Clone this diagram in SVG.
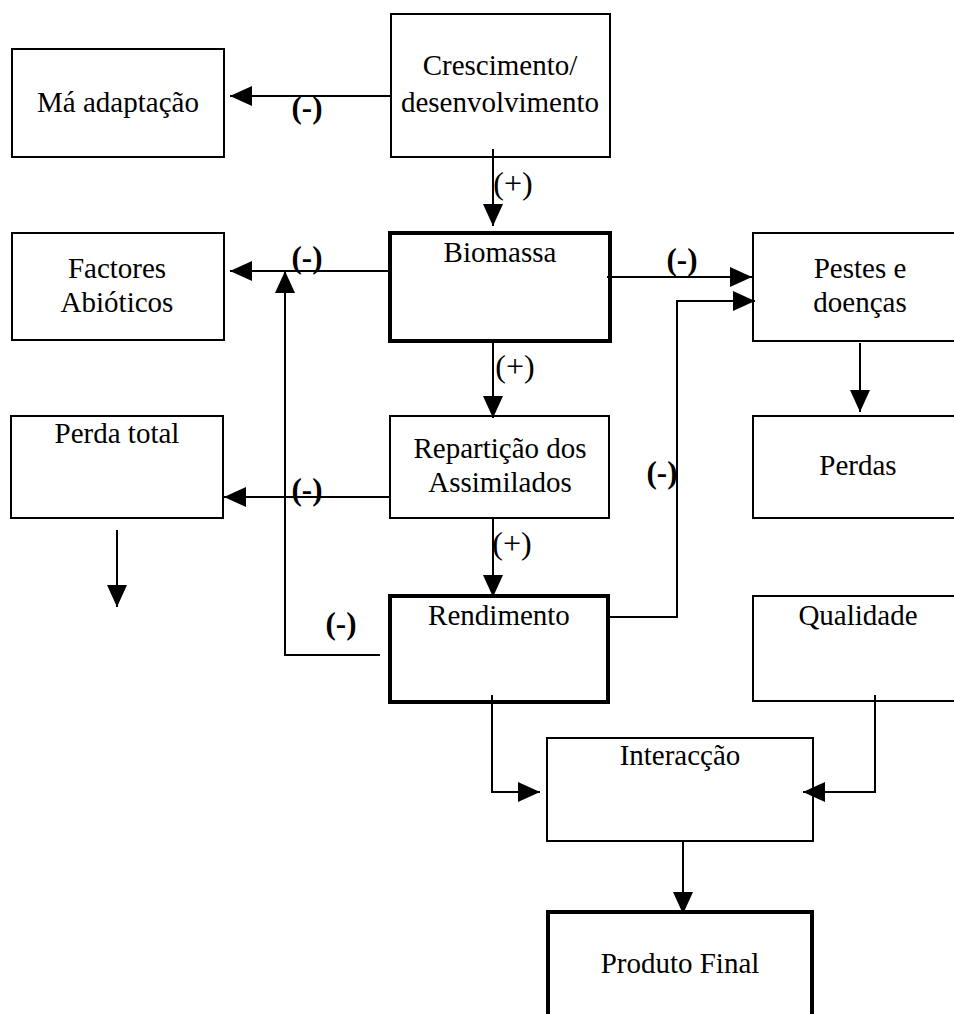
<svg xmlns="http://www.w3.org/2000/svg" width="954" height="1014" viewBox="0 0 954 1014">
<defs>
<marker id="ah" markerUnits="userSpaceOnUse" markerWidth="22" markerHeight="20" refX="22" refY="10" orient="auto">
<path d="M0,0 L22,10 L0,20 z" fill="#000"/>
</marker>
<style>
.box{fill:#fff;stroke:#000;stroke-width:2}
.thick{fill:#fff;stroke:#000;stroke-width:4}
.t{font-family:"Liberation Serif","Times New Roman",serif;font-size:29px;fill:#000;text-anchor:middle}
.m{font-family:"Liberation Serif","Times New Roman",serif;font-size:31px;font-weight:bold;fill:#000;text-anchor:middle}
.p{font-family:"Liberation Serif","Times New Roman",serif;font-size:32px;fill:#000;text-anchor:middle}
.c{fill:none;stroke:#000;stroke-width:2;marker-end:url(#ah)}
</style>
</defs>
<rect width="954" height="1014" fill="#fff"/>
<g id="ma-adaptacao"><rect class="box" x="12" y="49" width="212" height="108"/><text class="t" x="118" y="112">Má adaptação</text></g>
<g id="crescimento"><rect class="box" x="391" y="14" width="219" height="143"/><text class="t" x="500" y="75">Crescimento/</text><text class="t" x="500" y="112">desenvolvimento</text></g>
<g id="factores"><rect class="box" x="12" y="233" width="212" height="107"/><text class="t" x="117" y="278">Factores</text><text class="t" x="117" y="312">Abióticos</text></g>
<g id="biomassa"><rect class="thick" x="390" y="233" width="220" height="108"/><text class="t" x="500" y="262">Biomassa</text></g>
<g id="pestes"><rect class="box" x="753" y="233" width="213" height="108"/><text class="t" x="860" y="278">Pestes e</text><text class="t" x="860" y="312">doenças</text></g>
<g id="perda-total"><rect class="box" x="11" y="416" width="212" height="102"/><text class="t" x="117" y="443">Perda total</text></g>
<g id="reparticao"><rect class="box" x="390" y="416" width="219" height="102"/><text class="t" x="500" y="458">Repartição dos</text><text class="t" x="500" y="492">Assimilados</text></g>
<g id="perdas"><rect class="box" x="753" y="416" width="213" height="102"/><text class="t" x="858" y="475">Perdas</text></g>
<g id="rendimento"><rect class="thick" x="390" y="596" width="218" height="106"/><text class="t" x="499" y="625">Rendimento</text></g>
<g id="qualidade"><rect class="box" x="753" y="596" width="213" height="105"/><text class="t" x="858" y="625">Qualidade</text></g>
<g id="interaccao"><rect class="box" x="547" y="738" width="266" height="103"/><text class="t" x="680" y="765">Interacção</text></g>
<g id="produto-final"><rect class="thick" x="548" y="912" width="264" height="120"/><text class="t" x="680" y="973">Produto Final</text></g>
<g id="connectors">
<path class="c" d="M391,96 L230,96"/>
<path class="c" d="M493,149 L493,226"/>
<path class="c" d="M390,271 L230,271"/>
<path class="c" d="M380,655 L285,655 L285,271"/>
<path class="c" d="M607,277 L752,277"/>
<path class="c" d="M607,617 L677,617 L677,301 L755,301"/>
<path class="c" d="M860,343 L860,412"/>
<path class="c" d="M493,341 L493,418"/>
<path class="c" d="M390,497 L224,497"/>
<path class="c" d="M117,530 L117,607"/>
<path class="c" d="M493,518 L493,597"/>
<path class="c" d="M492,695 L492,792 L540,792"/>
<path class="c" d="M875,695 L875,792 L803,792"/>
<path class="c" d="M683,841 L683,914"/>
<text class="m" x="307" y="118">(-)</text>
<text class="m" x="307" y="268">(-)</text>
<text class="m" x="682" y="270">(-)</text>
<text class="m" x="307" y="500">(-)</text>
<text class="m" x="662" y="483">(-)</text>
<text class="m" x="341" y="634">(-)</text>
<text class="p" x="513" y="194">(+)</text>
<text class="p" x="515" y="377">(+)</text>
<text class="p" x="512" y="554">(+)</text>
</g>
</svg>
